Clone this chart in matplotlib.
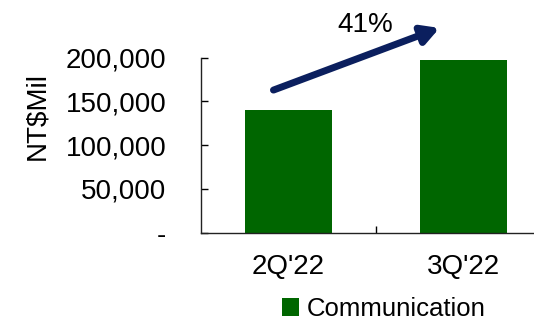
import matplotlib
matplotlib.use("Agg")
import matplotlib.pyplot as plt
from matplotlib.ticker import FixedLocator, FuncFormatter

plt.rcParams['font.family'] = ['Liberation Sans', 'DejaVu Sans']

# Data
quarters = ["2Q'22", "3Q'22"]
revenue = [140000, 197000]
series_name = "Communication"
growth_label = "41%"
y_ticks = [0, 50000, 100000, 150000, 200000]

bar_color = "#006600"
arrow_color = "#0b1f5e"

fig = plt.figure(figsize=(5.34, 3.2), dpi=100)
ax = fig.add_axes([201 / 534, 1 - 232.7 / 320, 350 / 534, (232.7 - 57.7) / 320])

x = list(range(len(quarters)))
ax.bar(x, revenue, width=0.5, color=bar_color, label=series_name, zorder=2)

ax.set_xlim(-0.5, len(quarters) - 0.5)
ax.set_ylim(0, 200000)

ax.set_yticks(y_ticks)
ax.yaxis.set_major_formatter(FuncFormatter(lambda v, p: "-" if v == 0 else f"{int(v):,}"))
ax.tick_params(axis='y', direction='in', length=5, width=1, pad=25, labelsize=20)

ax.set_xticks(x)
ax.set_xticklabels(quarters)
ax.xaxis.set_minor_locator(FixedLocator([0.5]))
ax.tick_params(axis='x', which='major', length=0, pad=15, labelsize=20)
ax.tick_params(axis='x', which='minor', direction='in', length=5, width=1)

for s in ['top', 'right']:
    ax.spines[s].set_visible(False)
for s in ['left', 'bottom']:
    ax.spines[s].set_color('#222222')
    ax.spines[s].set_linewidth(1)

fig.text(37 / 534, 1 - 116.5 / 320, "NT$Mil", rotation=90, ha='center', va='center', fontsize=20)

# Growth arrow between the two quarters
ax.annotate("", xy=(0.863, 234000), xytext=(-0.086, 163000),
            xycoords='data', textcoords='data', annotation_clip=False,
            arrowprops=dict(arrowstyle="-|>,head_length=1.0,head_width=0.55",
                            color=arrow_color, lw=5, shrinkA=0, shrinkB=0))
ax.text(0.44, 237400, growth_label, ha='center', va='center', fontsize=20, clip_on=False)

leg = fig.legend(loc='center', bbox_to_anchor=(384 / 534, 1 - 309 / 320), frameon=False,
                 fontsize=18.5, handlelength=0.65, handleheight=0.65, handletextpad=0.3,
                 borderpad=0, borderaxespad=0)

fig.savefig("out.png", dpi=100)
